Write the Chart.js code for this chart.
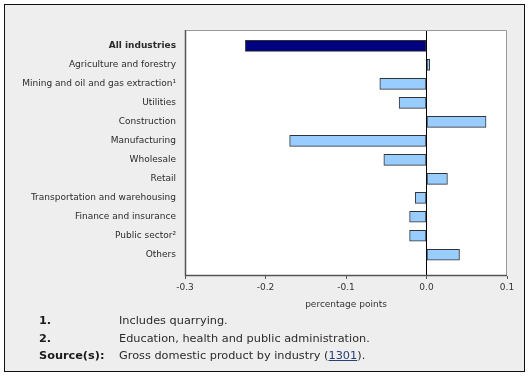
<!DOCTYPE html>
<html>
<head>
<meta charset="utf-8">
<script src="https://cdn.jsdelivr.net/npm/chart.js@4"></script>
<style>
  html, body { margin: 0; padding: 0; background: #fff; }
  #wrap { position: relative; width: 530px; height: 377px; }
  #frame { position: absolute; left: 4px; top: 4px; width: 519px; height: 366px; border: 1px solid #111; background: #eeeeee; }
  #chart { position: absolute; left: 0; top: 0; }
  .note { position: absolute; font-family: "DejaVu Sans", Verdana, sans-serif; font-size: 11.3px; color: #2b2b2b; line-height: 14px; white-space: nowrap; }
  .note b { color: #1a1a1a; }
  .note a { color: #2a3f7a; text-decoration: underline; }
</style>
</head>
<body>
<div id="wrap">
  <div id="frame"></div>
  <canvas id="chart" width="530" height="377"></canvas>
  <div class="note" style="left:39px; top:314px;"><b>1.</b></div>
  <div class="note" style="left:119px; top:314px;">Includes quarrying.</div>
  <div class="note" style="left:39px; top:332px;"><b>2.</b></div>
  <div class="note" style="left:119px; top:332px;">Education, health and public administration.</div>
  <div class="note" style="left:39px; top:349px;"><b>Source(s):</b></div>
  <div class="note" style="left:119px; top:349px;">Gross domestic product by industry (<a href="#">1301</a>).</div>
</div>
<script>
const industries = [
    "All industries",
    "Agriculture and forestry",
    "Mining and oil and gas extraction\u00b9",
    "Utilities",
    "Construction",
    "Manufacturing",
    "Wholesale",
    "Retail",
    "Transportation and warehousing",
    "Finance and insurance",
    "Public sector\u00b2",
    "Others"
]
const contributions = [-0.225, 0.004, -0.058, -0.034, 0.074, -0.170, -0.053, 0.026, -0.014, -0.021, -0.021, 0.041]
const xTicks = [-0.3, -0.2, -0.1, 0.0, 0.1]

const FONT = "'DejaVu Sans', Verdana, sans-serif"
const TOTAL_COLOR = '#000080'
const BAR_COLOR = '#99ccff'

// white plot background and the frame round it
const plotFrame = {
    id: 'plotFrame',
    beforeDraw(chart) {
        const a = chart.chartArea
        const ctx = chart.ctx
        ctx.save()
        ctx.fillStyle = '#fff'
        ctx.fillRect(a.left, a.top, a.right - a.left, a.bottom - a.top)
        ctx.restore()
    },
    afterDatasetsDraw(chart) {
        const a = chart.chartArea
        const ctx = chart.ctx
        ctx.save()
        ctx.lineWidth = 1
        ctx.strokeStyle = '#9a9a9a'
        ctx.beginPath()
        ctx.moveTo(a.left, a.top + 0.5)
        ctx.lineTo(a.right - 0.5, a.top + 0.5)
        ctx.lineTo(a.right - 0.5, a.bottom)
        ctx.stroke()
        ctx.strokeStyle = '#555'
        ctx.lineWidth = 1.5
        ctx.beginPath()
        ctx.moveTo(a.left + 0.5, a.top)
        ctx.lineTo(a.left + 0.5, a.bottom - 0.5)
        ctx.lineTo(a.right, a.bottom - 0.5)
        ctx.stroke()
        ctx.restore()
    }
}

const isZero = (v) => Math.abs(v) < 1e-9

new Chart(document.getElementById('chart'), {
    type: 'bar',
    data: {
        datasets: [{
            data: contributions.map((v, i) => ({ x: v, y: i })),
            backgroundColor: contributions.map((_, i) => i === 0 ? TOTAL_COLOR : BAR_COLOR),
            borderColor: '#333',
            borderWidth: 1,
            borderSkipped: false,
            barThickness: 11
        }]
    },
    options: {
        indexAxis: 'y',
        responsive: false,
        animation: false,
        layout: { padding: { top: 30, right: 23, bottom: 61, left: 0 } },
        plugins: {
            legend: { display: false },
            tooltip: { enabled: false }
        },
        scales: {
            x: {
                type: 'linear',
                min: xTicks[0],
                max: xTicks[xTicks.length - 1],
                afterBuildTicks: (axis) => { axis.ticks = xTicks.map(v => ({ value: v })) },
                afterFit: (axis) => { axis.height = 40 },
                border: { display: false },
                grid: {
                    drawOnChartArea: true,
                    drawTicks: true,
                    tickLength: 3,
                    tickColor: '#555',
                    color: (ctx) => ctx.tick && isZero(ctx.tick.value) ? '#000' : 'rgba(0,0,0,0)',
                    lineWidth: 1
                },
                ticks: {
                    padding: 3,
                    color: '#333',
                    font: { family: FONT, size: 9 },
                    maxRotation: 0,
                    callback: (v) => isZero(v) ? '0.0' : Number(v).toFixed(1)
                },
                title: {
                    display: true,
                    text: 'percentage points',
                    color: '#333',
                    font: { family: FONT, size: 9 },
                    padding: { top: 0, bottom: 5.6 }
                }
            },
            y: {
                type: 'linear',
                reverse: true,
                offset: false,
                min: -0.84,
                max: 12.12,
                afterBuildTicks: (axis) => { axis.ticks = industries.map((_, i) => ({ value: i })) },
                afterFit: (axis) => { axis.width = 185 },
                border: { display: false },
                grid: { display: false, drawTicks: false, offset: false },
                ticks: {
                    autoSkip: false,
                    padding: 9,
                    color: '#2b2b2b',
                    font: (ctx) => ({
                        family: FONT,
                        size: 9,
                        weight: ctx.tick && ctx.tick.value === 0 ? 'bold' : 'normal'
                    }),
                    callback: (v) => industries[Math.round(v)] || ''
                }
            }
        }
    },
    plugins: [plotFrame]
})
</script>
</body>
</html>
